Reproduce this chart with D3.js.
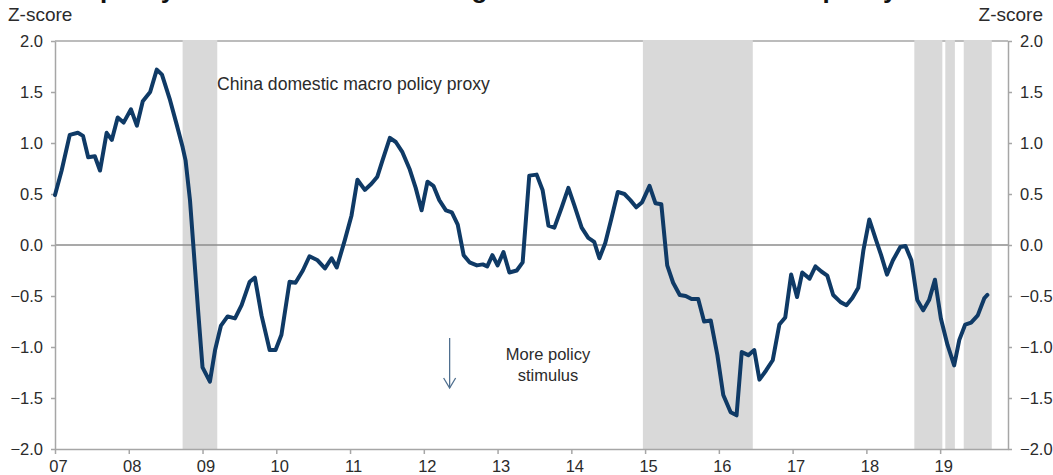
<!DOCTYPE html>
<html>
<head>
<meta charset="utf-8">
<script src="https://cdn.jsdelivr.net/npm/d3@7"></script>
<style>
  html, body { margin: 0; padding: 0; background: #fff; }
  svg { display: block; font-family: "Liberation Sans", Arial, sans-serif; }
</style>
</head>
<body>
<svg id="chart"></svg>
<script>
// China domestic macro policy proxy (z-score)
const dates = [
  2007.00, 2007.09, 2007.20, 2007.31, 2007.38, 2007.45, 2007.54, 2007.61, 2007.70, 2007.77,
  2007.85, 2007.93, 2008.03, 2008.11, 2008.19, 2008.29, 2008.38, 2008.45, 2008.56, 2008.65,
  2008.73, 2008.77, 2008.83, 2008.88, 2008.94, 2009.00, 2009.10, 2009.17, 2009.25, 2009.34,
  2009.44, 2009.53, 2009.64, 2009.71, 2009.80, 2009.91, 2009.99, 2010.07, 2010.18, 2010.26,
  2010.36, 2010.45, 2010.56, 2010.66, 2010.75, 2010.82, 2010.93, 2011.02, 2011.10, 2011.20,
  2011.29, 2011.37, 2011.44, 2011.54, 2011.62, 2011.71, 2011.81, 2011.89, 2011.97, 2012.05,
  2012.13, 2012.21, 2012.30, 2012.38, 2012.46, 2012.54, 2012.62, 2012.72, 2012.80, 2012.86,
  2012.93, 2013.00, 2013.08, 2013.16, 2013.26, 2013.34, 2013.43, 2013.53, 2013.61, 2013.69,
  2013.77, 2013.87, 2013.96, 2014.04, 2014.14, 2014.23, 2014.31, 2014.38, 2014.46, 2014.54,
  2014.63, 2014.72, 2014.80, 2014.88, 2014.96, 2015.06, 2015.14, 2015.22, 2015.30, 2015.38,
  2015.47, 2015.55, 2015.63, 2015.72, 2015.80, 2015.89, 2015.98, 2016.06, 2016.16, 2016.24,
  2016.31, 2016.40, 2016.48, 2016.55, 2016.64, 2016.73, 2016.82, 2016.90, 2016.98, 2017.06,
  2017.13, 2017.23, 2017.31, 2017.39, 2017.47, 2017.55, 2017.65, 2017.73, 2017.81, 2017.89,
  2017.96, 2018.04, 2018.13, 2018.20, 2018.28, 2018.36, 2018.46, 2018.53, 2018.61, 2018.69,
  2018.77, 2018.85, 2018.93, 2019.01, 2019.10, 2019.19, 2019.26, 2019.34, 2019.42, 2019.51,
  2019.60, 2019.64
];
const zscore = [
  0.49, 0.73, 1.08, 1.10, 1.07, 0.86, 0.87, 0.73, 1.10, 1.03,
  1.25, 1.20, 1.33, 1.17, 1.41, 1.50, 1.72, 1.67, 1.42, 1.18,
  0.96, 0.83, 0.44, -0.05, -0.64, -1.20, -1.34, -1.03, -0.79, -0.70,
  -0.72, -0.59, -0.36, -0.32, -0.69, -1.03, -1.03, -0.88, -0.36, -0.37,
  -0.25, -0.11, -0.15, -0.23, -0.13, -0.22, 0.05, 0.29, 0.64, 0.54,
  0.60, 0.67, 0.83, 1.05, 1.01, 0.91, 0.74, 0.56, 0.34, 0.62,
  0.58, 0.44, 0.34, 0.32, 0.20, -0.10, -0.17, -0.20, -0.19, -0.21,
  -0.10, -0.20, -0.07, -0.27, -0.25, -0.17, 0.68, 0.69, 0.54, 0.19,
  0.17, 0.37, 0.56, 0.39, 0.17, 0.07, 0.03, -0.13, 0.02, 0.25,
  0.52, 0.50, 0.44, 0.37, 0.42, 0.58, 0.41, 0.40, -0.20, -0.37,
  -0.49, -0.50, -0.53, -0.53, -0.75, -0.74, -1.08, -1.47, -1.64, -1.67,
  -1.05, -1.08, -1.03, -1.32, -1.23, -1.13, -0.78, -0.71, -0.29, -0.51,
  -0.27, -0.33, -0.21, -0.26, -0.30, -0.49, -0.56, -0.59, -0.52, -0.42,
  -0.05, 0.25, 0.05, -0.10, -0.29, -0.15, -0.02, -0.01, -0.15, -0.54,
  -0.64, -0.54, -0.34, -0.72, -0.98, -1.18, -0.93, -0.78, -0.76, -0.69,
  -0.52, -0.49
];

// shaded periods (start, end) in decimal years
const shadeStart = [2008.73, 2014.97, 2018.65, 2019.07, 2019.32];
const shadeEnd   = [2009.20, 2016.46, 2019.03, 2019.20, 2019.70];

const yearTicks = d3.range(2007, 2020);
const yearLabels = ['07', '08', '09', '10', '11', '12', '13', '14', '15', '16', '17', '18', '19'];
const zTicks = [-2, -1.5, -1, -0.5, 0, 0.5, 1, 1.5, 2];

const width = 1053, height = 475;
const plotLeft = 55, plotRight = 1008, plotTop = 41, plotBottom = 449;

const svg = d3.select('#chart').attr('width', width).attr('height', height);
svg.append('rect').attr('width', width).attr('height', height).attr('fill', '#fff');

const x = d3.scaleLinear().domain([2007, 2019.92]).range([plotLeft, plotRight]);
const y = d3.scaleLinear().domain([-2, 2]).range([plotBottom, plotTop]);

const axisColor = '#a6a6a6';
const textColor = '#2b2b2b';

// title, cut off by the top edge in the reference (only descenders show)
svg.append('text')
  .attr('x', 0).attr('y', -2)
  .attr('font-size', 26).attr('font-weight', 'bold').attr('fill', '#111')
  .text("China's policy is less loose than during the 2015-16 downturn and policy remains tame");

// top frame line
svg.append('line')
  .attr('x1', plotLeft).attr('x2', plotRight).attr('y1', plotTop).attr('y2', plotTop)
  .attr('stroke', axisColor).attr('stroke-width', 1.5);

// shading
svg.append('g').selectAll('rect')
  .data(shadeStart)
  .enter().append('rect')
  .attr('x', (d) => x(d))
  .attr('width', (d, i) => x(shadeEnd[i]) - x(d))
  .attr('y', plotTop - 1)
  .attr('height', plotBottom - plotTop + 1)
  .attr('fill', '#d9d9d9');

// zero line
svg.append('line')
  .attr('x1', plotLeft).attr('x2', plotRight).attr('y1', y(0)).attr('y2', y(0))
  .attr('stroke', '#8c8c8c').attr('stroke-width', 1.3);

// axes
function styleAxis(g) {
  g.select('.domain').attr('stroke', axisColor).attr('stroke-width', 1.5);
  g.selectAll('.tick line').attr('stroke', axisColor).attr('stroke-width', 1.5);
  g.selectAll('.tick text').attr('fill', textColor).attr('font-size', 16.5)
    .attr('font-family', '"Liberation Sans", Arial, sans-serif');
}

const xAxis = d3.axisBottom(x)
  .tickValues(yearTicks)
  .tickFormat((d, i) => yearLabels[i])
  .tickSizeInner(5).tickSizeOuter(0).tickPadding(6);
svg.append('g')
  .attr('transform', `translate(0,${plotBottom})`)
  .call(xAxis)
  .call(styleAxis)
  .call(g => g.selectAll('.tick text').attr('dx', 3));

const yLeft = d3.axisLeft(y)
  .tickValues(zTicks).tickFormat(d3.format('.1f'))
  .tickSizeInner(4).tickSizeOuter(0).tickPadding(8);
svg.append('g')
  .attr('transform', `translate(${plotLeft},0)`)
  .call(yLeft)
  .call(styleAxis);

const yRight = d3.axisRight(y)
  .tickValues(zTicks).tickFormat(d3.format('.1f'))
  .tickSizeInner(4).tickSizeOuter(0).tickPadding(8);
svg.append('g')
  .attr('transform', `translate(${plotRight},0)`)
  .call(yRight)
  .call(styleAxis);

// axis titles
svg.append('text')
  .attr('x', 8).attr('y', 21)
  .attr('font-family', '"Liberation Sans Narrow", "Arial Narrow", sans-serif')
  .attr('font-size', 19).attr('fill', textColor)
  .text('Z-score');
svg.append('text')
  .attr('x', 1043).attr('y', 21).attr('text-anchor', 'end')
  .attr('font-family', '"Liberation Sans Narrow", "Arial Narrow", sans-serif')
  .attr('font-size', 19).attr('fill', textColor)
  .text('Z-score');

// series line
const series = dates.map((d, i) => ({ t: d, v: zscore[i] }));
const line = d3.line().x(d => x(d.t)).y(d => y(d.v));
svg.append('path')
  .datum(series)
  .attr('d', line)
  .attr('fill', 'none')
  .attr('stroke', '#0f3a66')
  .attr('stroke-width', 4)
  .attr('stroke-linejoin', 'round')
  .attr('stroke-linecap', 'round');

// annotations
svg.append('text')
  .attr('x', 217).attr('y', 90)
  .attr('font-size', 17.6).attr('fill', textColor)
  .text('China domestic macro policy proxy');

const note = svg.append('text')
  .attr('text-anchor', 'middle')
  .attr('font-size', 16.5).attr('fill', textColor);
note.append('tspan').attr('x', 548).attr('y', 360).text('More policy');
note.append('tspan').attr('x', 548).attr('y', 381).text('stimulus');

// arrow
const ax = x(2012.35);
svg.append('line')
  .attr('x1', ax).attr('x2', ax).attr('y1', 338).attr('y2', 388)
  .attr('stroke', '#4f6f8f').attr('stroke-width', 1.3);
svg.append('path')
  .attr('d', `M${ax - 6},${378} L${ax},${388} L${ax + 6},${378}`)
  .attr('fill', 'none').attr('stroke', '#4f6f8f').attr('stroke-width', 1.3);
</script>
</body>
</html>
